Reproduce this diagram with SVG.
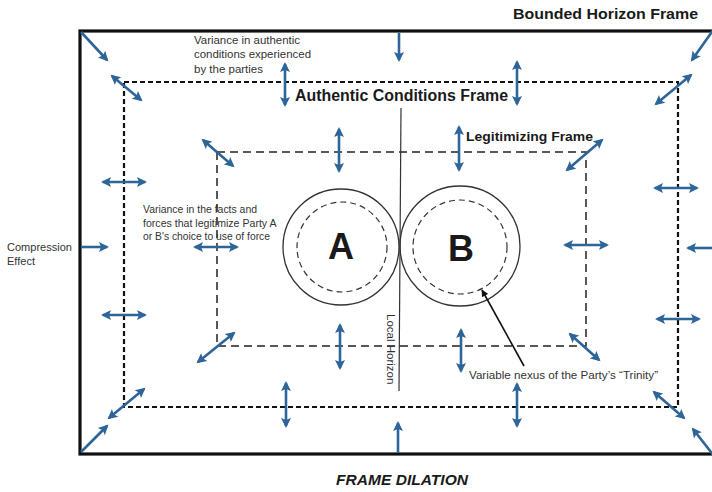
<svg xmlns="http://www.w3.org/2000/svg" width="712" height="492" viewBox="0 0 712 492">
<style>
.bg{fill:#ffffff}
.outer{fill:none;stroke:#111;stroke-width:3.2}
.auth{fill:none;stroke:#111;stroke-width:2.2;stroke-dasharray:5 3}
.legit{fill:none;stroke:#222;stroke-width:1.5;stroke-dasharray:8 5}
.circ{fill:none;stroke:#333;stroke-width:1.3}
.icirc{fill:none;stroke:#333;stroke-width:1.2;stroke-dasharray:6 4}
.hz{fill:none;stroke:#333;stroke-width:1.2}
.ptr{fill:none;stroke:#111;stroke-width:1.6}
.s{fill:none;stroke:#2e6599;stroke-width:2.6;marker-end:url(#ah)}
.d{fill:none;stroke:#2e6599;stroke-width:2.6;marker-start:url(#ah);marker-end:url(#ah)}
.t{font-family:"Liberation Sans",Arial,sans-serif;fill:#333}
.b{font-family:"Liberation Sans",Arial,sans-serif;font-weight:bold;fill:#1a1a1a}
</style>
<defs>
<marker id="ah" viewBox="0 0 10 10" refX="8" refY="5" markerUnits="userSpaceOnUse" markerWidth="11" markerHeight="10" orient="auto-start-reverse">
<path d="M0,0 L10,5 L0,10 L2,5 z" fill="#2e6599"/>
</marker>
<marker id="ahk" viewBox="0 0 10 10" refX="9" refY="5" markerUnits="userSpaceOnUse" markerWidth="8" markerHeight="7" orient="auto">
<path d="M0,0 L10,5 L0,10 z" fill="#111"/>
</marker>
</defs>
<rect class="bg" x="0" y="0" width="712" height="492"/>

<g id="bounded-horizon-frame">
<rect class="outer" x="80" y="31" width="640" height="423"/>
<text class="b" x="513" y="19" font-size="15" textLength="185" lengthAdjust="spacingAndGlyphs">Bounded Horizon Frame</text>
</g>

<g id="authentic-conditions-frame">
<rect class="auth" x="124" y="82" width="554" height="325"/>
<text class="b" x="295" y="101" font-size="16" textLength="213" lengthAdjust="spacingAndGlyphs">Authentic Conditions Frame</text>
</g>

<g id="legitimizing-frame">
<rect class="legit" x="217" y="152" width="369" height="194"/>
<text class="b" x="466" y="141" font-size="13" textLength="127" lengthAdjust="spacingAndGlyphs">Legitimizing Frame</text>
</g>

<g id="party-a">
<circle class="circ" cx="341" cy="247" r="58"/>
<circle class="icirc" cx="342" cy="247" r="45"/>
<text class="b" x="341" y="259" font-size="36" text-anchor="middle" fill="#111">A</text>
</g>

<g id="party-b">
<circle class="circ" cx="460" cy="246" r="60"/>
<circle class="icirc" cx="460" cy="247" r="47"/>
<text class="b" x="461" y="261" font-size="36" text-anchor="middle" fill="#111">B</text>
</g>

<g id="local-horizon">
<line class="hz" x1="401" y1="108" x2="399" y2="391"/>
<text class="t" transform="translate(387,314) rotate(90)" x="0" y="0" font-size="11.5" fill="#222">Local Horizon</text>
</g>

<g id="labels">
<text class="t" font-size="11">
<tspan x="194" y="44" textLength="106" lengthAdjust="spacingAndGlyphs">Variance in authentic</tspan>
<tspan x="194" y="58" textLength="117" lengthAdjust="spacingAndGlyphs">conditions experienced</tspan>
<tspan x="194" y="73" textLength="69" lengthAdjust="spacingAndGlyphs">by the parties</tspan>
</text>
<text class="t" font-size="10.5">
<tspan x="143" y="213" textLength="114" lengthAdjust="spacingAndGlyphs">Variance in the facts and</tspan>
<tspan x="143" y="227" textLength="133" lengthAdjust="spacingAndGlyphs">forces that legitimize Party A</tspan>
<tspan x="143" y="240" textLength="127" lengthAdjust="spacingAndGlyphs">or B's choice to use of force</tspan>
</text>
<text class="t" font-size="10.5">
<tspan x="7" y="251" textLength="65" lengthAdjust="spacingAndGlyphs">Compression</tspan>
<tspan x="7" y="265" textLength="28" lengthAdjust="spacingAndGlyphs">Effect</tspan>
</text>
<text class="t" x="469" y="379" font-size="11" textLength="189" lengthAdjust="spacingAndGlyphs">Variable nexus of the Party’s “Trinity”</text>
<text class="b" x="336" y="485" font-size="15" font-style="italic" textLength="132" lengthAdjust="spacingAndGlyphs">FRAME DILATION</text>
</g>

<g id="connectors">
<line class="ptr" x1="524" y1="366" x2="482" y2="290" marker-end="url(#ahk)"/>
<line class="s" x1="399" y1="33" x2="399" y2="60"/>
<line class="d" x1="517" y1="62" x2="517" y2="104"/>
<line class="d" x1="285" y1="64" x2="285" y2="105"/>
<line class="s" x1="81" y1="32" x2="107" y2="60"/>
<line class="d" x1="112" y1="76" x2="141" y2="100"/>
<line class="s" x1="714" y1="29" x2="692" y2="60"/>
<line class="d" x1="691" y1="75" x2="656" y2="104"/>
<line class="d" x1="203" y1="140" x2="233" y2="166"/>
<line class="d" x1="602" y1="140" x2="567" y2="170"/>
<line class="d" x1="339" y1="129" x2="339" y2="171"/>
<line class="d" x1="459" y1="127" x2="459" y2="170"/>
<line class="d" x1="103" y1="182" x2="145" y2="182"/>
<line class="s" x1="81" y1="247" x2="107" y2="247"/>
<line class="d" x1="195" y1="247" x2="237" y2="247"/>
<line class="d" x1="103" y1="315" x2="145" y2="315"/>
<line class="d" x1="198" y1="362" x2="234" y2="333"/>
<line class="d" x1="109" y1="418" x2="144" y2="389"/>
<line class="s" x1="81" y1="452" x2="107" y2="426"/>
<line class="d" x1="340" y1="325" x2="340" y2="368"/>
<line class="d" x1="286" y1="383" x2="286" y2="426"/>
<line class="s" x1="398" y1="453" x2="398" y2="423"/>
<line class="d" x1="461" y1="330" x2="461" y2="371"/>
<line class="d" x1="517" y1="384" x2="517" y2="426"/>
<line class="d" x1="570" y1="334" x2="599" y2="360"/>
<line class="d" x1="654" y1="392" x2="684" y2="418"/>
<line class="s" x1="714" y1="456" x2="693" y2="429"/>
<line class="d" x1="655" y1="188" x2="697" y2="188"/>
<line class="s" x1="714" y1="248" x2="688" y2="248"/>
<line class="d" x1="657" y1="319" x2="699" y2="319"/>
<line class="d" x1="565" y1="245" x2="607" y2="245"/>
</g>
</svg>
